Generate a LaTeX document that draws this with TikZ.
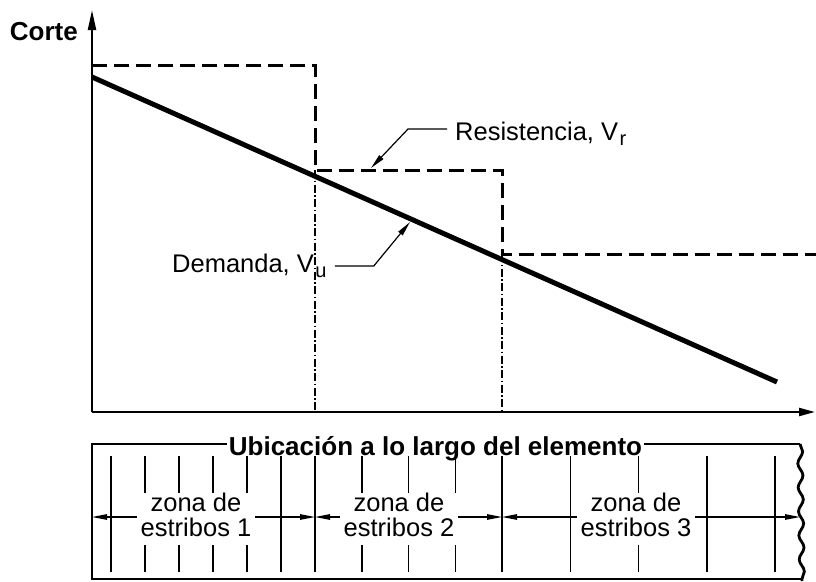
\documentclass[tikz,border=0pt]{standalone}
\usepackage{fontspec}
\setmainfont{Liberation Sans}
\usepackage{tikz}
\usetikzlibrary{arrows.meta,decorations.pathmorphing}
\newcommand{\idx}[1]{\kern1.5pt\raisebox{-5pt}{\fontsize{20}{20}\selectfont #1}}
\newcommand{\zona}[1]{zona de\\estribos #1\rule[-9pt]{0pt}{9pt}}

\begin{document}
\begin{tikzpicture}[line cap=butt,line join=miter,x=1pt,y=-1pt,
    >={Triangle[length=15pt,width=5.5pt]},
    lbl/.style={font=\fontsize{25.5}{25}\selectfont,inner sep=0pt},
    ttl/.style={font=\bfseries\fontsize{26}{30}\selectfont,inner xsep=2pt,inner ysep=0pt},
    zonetxt/.style={lbl,align=center,fill=white,minimum width=118pt},
    demanda/.style={line width=5pt},
    resist/.style={line width=3pt,dash pattern=on 15pt off 7pt},
    eje/.style={line width=2.2pt},
    guia/.style={line width=1.2pt,dash pattern=on 8pt off 2.5pt on 1.5pt off 2.5pt},
    caja/.style={line width=2.8pt},
    estribo/.style={line width=1.5pt},
    cota/.style={line width=1.2pt}]
  \useasboundingbox (0,0) rectangle (816,581);

  % ejes
  \coordinate (o) at (92,412);
  \coordinate (ytop) at (92,10);
  \coordinate (xend) at (815,412);
  \draw[eje,-{Triangle[length=20pt,width=8pt]}] (o) -- (ytop);
  \draw[eje,-{Triangle[length=16pt,width=8pt]}] (o) -- (xend);
  \node[ttl,anchor=east] (corte) at (80,32) {Corte};

  % resistencia y demanda
  \draw[resist] (92,65) -- (315,65) -- (315,170) -- (502,170) -- (502,254) -- (816,254);
  \draw[guia] (315,170) -- (315,412);
  \draw[guia] (502,254) -- (502,412);
  \coordinate (d0) at (92,77);
  \coordinate (d1) at (777,382);
  \draw[demanda] (d0) -- (d1);

  \node[lbl,anchor=base west] (res) at (455,140) {Resistencia, V\idx{r}};
  \coordinate (rtip) at (371,168);
  \draw[cota,->] ([shift={(-8,-11)}]res.base west) -- ++(-39,0) -- (rtip);

  \node[lbl,anchor=base west] (dem) at (172,272) {Demanda, V\idx{u}};
  \coordinate (dtip) at (410,222);
  \draw[cota,->] ([shift={(8,-6)}]dem.base east) -- ++(39,0) -- (dtip);

  % elemento
  \node[ttl,anchor=base] (ubic) at (435.5,455) {Ubicación a lo largo del elemento};
  \coordinate (b1) at (92,444);
  \coordinate (b2) at (800,444);
  \draw[caja] (ubic.west |- b1) -- (b1) -- (92,579) -- (803,579);
  \draw[caja] (ubic.east |- b1) -- (b2);
  \draw[caja,decorate,decoration={snake,amplitude=2.5pt,segment length=24pt}] (b2) -- (802,581);

  % estribos
  \foreach \x in {111,145,...,315}
    \draw[estribo] (\x,456) -- (\x,572);
  \foreach \x in {361.75,408.5,455.25,502}
    \draw[estribo] (\x,456) -- (\x,572);
  \foreach \x in {570.25,638.5,706.75,775}
    \draw[estribo] (\x,456) -- (\x,572);

  % cotas
  \coordinate (z0) at (92,517);
  \coordinate (z1) at (315,517);
  \coordinate (z2) at (502,517);
  \coordinate (z3) at (800,517);
  \draw[cota,<->] (z0) -- (z1);
  \draw[cota,<->] (z1) -- (z2);
  \draw[cota,<->] (z2) -- (z3);
  \node[zonetxt] (zona1) at (196,519) {\zona{1}};
  \node[zonetxt] (zona2) at (399,519) {\zona{2}};
  \node[zonetxt] (zona3) at (636,519) {\zona{3}};
\end{tikzpicture}
\end{document}
